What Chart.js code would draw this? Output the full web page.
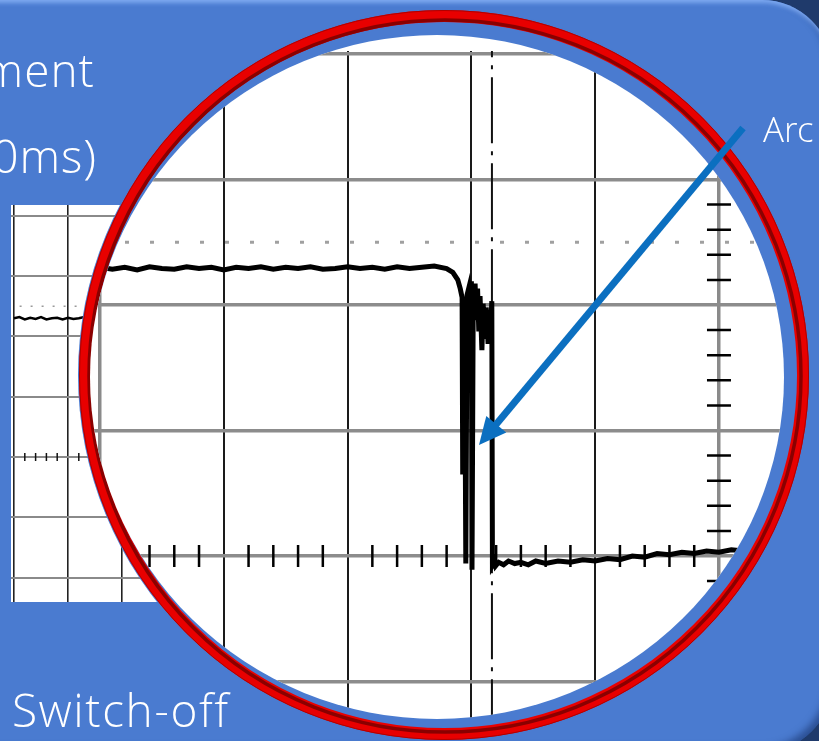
<!DOCTYPE html>
<html>
<head>
<meta charset="utf-8">
<script src="https://cdn.jsdelivr.net/npm/chart.js@4.4.1/dist/chart.umd.min.js"></script>
<style>
  body { margin:0; width:819px; height:741px; overflow:hidden; background:#1f3a6b; position:relative;
         font-family:'Open Sans Light','Lato Light','Noto Sans Light','Roboto Light','Open Sans','Noto Sans',sans-serif; }
  #slide { position:absolute; left:-100px; top:0; width:932px; height:752px; border-radius:70px; background:#4a7bd0;
           box-shadow: inset 0 5px 4px -2px #7eaaf2, inset -4px -4px 7px rgba(20,45,100,.55); }
  #small { position:absolute; left:11px; top:205px; width:165px; height:397px; background:#fff; }
  #main  { position:absolute; left:0; top:0; width:819px; height:741px; }
  .txt { position:absolute; color:#fff; font-weight:300; line-height:1; white-space:nowrap; }
</style>
</head>
<body>
<div id="slide"></div>
<div id="small"><canvas id="smallChart"></canvas></div>
<div id="main"><canvas id="lensChart"></canvas></div>
<div class="txt" style="right:724px;top:46px;font-size:46px;letter-spacing:1px">ment</div>
<div class="txt" style="right:722px;top:132px;font-size:46px;letter-spacing:1px">0ms)</div>
<div class="txt" style="left:12px;top:686px;font-size:46px;letter-spacing:1.5px">Switch-off</div>
<div class="txt" style="left:763px;top:111px;font-size:35px">Arc</div>
<script>
const slideBlue = '#4a7bd0';

// zoomed scope: x in 0.1 div (0 = left grid line), y in 0.1 div (0 = time axis)
const gridX = [0, 10, 20, 30, 40, 50];
const gridY = [-10, 0, 10, 20, 30, 40];
const axisTicksX = [2,4,6,8,12,14,16,18,22,24,26,28,32,34,36,38,42,44,46,48];
const axisTicksY = [-8,-6,-4,-2,2,4,6,8,12,14,16,18,22,24,26,28,32,34,36,38];
const dottedLevel = 25.0;
const cursorX = 31.66;

const traceX = [-1,0,1,2,3,4,5,6,7,8,9,10,11,12,13,14,15,16,17,18,19,20,21,22,23,24,25,26,27,28,
  28.5,28.9,29.1,29.25,29.3,29.35,29.45,29.55,29.65,29.8,29.95,30.0,30.05,30.15,30.3,30.4,30.5,30.6,
  30.7,30.85,30.95,31.1,31.2,31.35,31.45,31.55,31.65,31.7,31.85,31.95,32.2,32.6,33.0,33.5,34.0,34.6,35.2,
  36,37,38,39,40,41,42,43,44,45,46,47,48,49,50,51,52,53,54,56];
const traceY = [22.9,23.0,22.85,23.0,22.8,23.05,22.9,22.85,23.05,22.9,23.0,22.8,23.0,22.9,23.05,22.85,23.0,22.9,23.05,22.85,
  22.9,23.05,22.9,23.0,22.85,23.05,22.9,23.0,23.1,22.9,
  22.6,22.0,21.3,20.6,6.5,19.8,20.4,-0.6,20.8,21.4,19.8,21.9,-1.1,20.6,21.7,18.8,21.3,17.9,
  20.7,16.4,20.1,17.3,19.8,16.9,19.4,18.0,20.3,-0.7,-0.4,-0.8,-0.5,-0.7,-0.4,-0.6,-0.5,-0.7,-0.4,
  -0.6,-0.4,-0.5,-0.3,-0.4,-0.2,-0.3,0.0,-0.1,0.2,0.1,0.3,0.2,0.4,0.3,0.5,0.4,0.5,0.4,0.5];

// small scope on the left, same units
const smallGridX = [0, 10, 20, 30];
const smallGridY = [-20, -10, 0, 10, 20, 30, 40];
const smallTicksX = [2, 4, 6, 8, 12, 14, 16, 18, 22, 24, 26, 28];
const smallDotted = 25.0;
const smallTraceX = [0,1,2,3,4,5,6,7,8,9,10,11,12,13,14,15,16];
const smallTraceY = [23.0,23.2,22.8,23.1,22.9,23.2,22.8,23.0,23.1,22.8,23.1,22.9,23.0,23.2,22.9,23.0,23.1];

const pts = (xs, ys) => xs.map((x, i) => ({ x, y: ys[i] }));
const hidden = { display:false };

function scopeScale(min, max, list, colorFn, widthFn) {
  return {
    type:'linear', min, max,
    afterBuildTicks: s => { s.ticks = list.map(v => ({ value:v })); },
    ticks: { display:false },
    border: { display:false },
    grid: { drawTicks:false, color: c => colorFn(c.tick.value), lineWidth: c => widthFn(c.tick.value) }
  };
}

// ---------- small scope ----------
new Chart(document.getElementById('smallChart'), {
  type: 'scatter',
  data: {
    datasets: [
      { data: pts(smallTraceX, smallTraceY), showLine:true, borderColor:'#000', borderWidth:2.5, pointRadius:0 },
      { data: [{x:-1,y:smallDotted},{x:30,y:smallDotted}], showLine:true, borderColor:'#9a9a9a', borderWidth:1.5, borderDash:[2,9], pointRadius:0 },
      { data: smallTicksX.map(x => ({ x, y:0 })), pointStyle:'line', rotation:90, pointRadius:4, borderColor:'#111', borderWidth:1.5 }
    ]
  },
  options: {
    responsive:true, maintainAspectRatio:false, animation:false,
    layout: { padding:0, autoPadding:false },
    plugins: { legend:hidden, tooltip:{ enabled:false } },
    scales: {
      x: { ...scopeScale(-0.556, 30, smallGridX, () => '#222', () => 1.6), afterFit: s => { s.height = 0; } },
      y: { ...scopeScale(-24.05, 41.79, smallGridY, () => '#8a8a8a', () => 2), afterFit: s => { s.width = 0; } }
    }
  }
});

// ---------- magnifier ----------
const lens = {
  id: 'lens',
  beforeDraw(chart) {
    const c = chart.ctx;
    c.save();
    c.fillStyle = slideBlue;
    c.beginPath(); c.arc(444, 375, 366, 0, Math.PI * 2); c.fill();
    c.lineWidth = 12; c.strokeStyle = '#e80000';
    c.beginPath(); c.arc(444, 375, 359, 0, Math.PI * 2); c.stroke();
    c.lineWidth = 3.5; c.strokeStyle = '#8a0000';
    c.beginPath(); c.arc(445, 376, 356, 0, Math.PI * 2); c.stroke();
    c.lineWidth = 1; c.strokeStyle = '#b00000';
    c.beginPath(); c.arc(444, 375, 364.5, 0, Math.PI * 2); c.stroke();
    c.fillStyle = '#fff';
    c.beginPath(); c.ellipse(437, 377, 347, 342, 0, 0, Math.PI * 2); c.fill();
    c.restore();
    c.save();
    c.beginPath(); c.ellipse(437, 377, 347, 342, 0, 0, Math.PI * 2); c.clip();
    c.beginPath(); c.rect(0, 51, 819, 700); c.clip();
  },
  afterDatasetsDraw(chart) { chart.ctx.restore(); },
  afterDraw(chart) {
    const c = chart.ctx;
    const x0 = 743, y0 = 128, x1 = 479, y1 = 445;
    const len = Math.hypot(x1 - x0, y1 - y0), ux = (x1 - x0) / len, uy = (y1 - y0) / len;
    const bx = x1 - ux * 27, by = y1 - uy * 27;
    c.save();
    c.strokeStyle = c.fillStyle = '#0b6fc0';
    c.lineWidth = 7;
    c.beginPath(); c.moveTo(x0, y0); c.lineTo(bx + ux * 2, by + uy * 2); c.stroke();
    c.beginPath();
    c.moveTo(x1, y1);
    c.lineTo(bx - uy * 13, by + ux * 13);
    c.lineTo(bx + uy * 13, by - ux * 13);
    c.closePath(); c.fill();
    c.restore();
  }
};

new Chart(document.getElementById('lensChart'), {
  type: 'scatter',
  data: {
    datasets: [
      { data: pts(traceX, traceY), showLine:true, borderColor:'#000', borderWidth:5, pointRadius:0 },
      { data: [{x:-8.08,y:dottedLevel},{x:60,y:dottedLevel}], showLine:true, borderColor:'#a0a0a0', borderWidth:3, borderDash:[4,21], pointRadius:0 },
      { data: [{x:cursorX,y:45},{x:cursorX,y:-15}], showLine:true, borderColor:'#111', borderWidth:2, borderDash:[66,8,4,8], pointRadius:0 },
      { data: axisTicksX.map(x => ({ x, y:0 })), pointStyle:'line', rotation:90, pointRadius:11, borderColor:'#000', borderWidth:2.5 },
      { data: axisTicksY.map(y => ({ x:50, y })), pointStyle:'line', rotation:0, pointRadius:12, borderColor:'#000', borderWidth:2.5 }
    ]
  },
  options: {
    responsive:true, maintainAspectRatio:false, animation:false,
    layout: { padding:0, autoPadding:false },
    plugins: { legend:hidden, tooltip:{ enabled:false } },
    scales: {
      x: { ...scopeScale(-8.078, 58.08, gridX,
             v => (v === 0 || v === 50) ? '#8a8a8a' : '#1a1a1a',
             v => (v === 0 || v === 50) ? 3.5 : 2),
           afterFit: s => { s.height = 0; } },
      y: { ...scopeScale(-14.74, 44.3, gridY, () => '#8c8c8c', () => 3.5),
           afterFit: s => { s.width = 0; } }
    }
  },
  plugins: [lens]
});
</script>
</body>
</html>
